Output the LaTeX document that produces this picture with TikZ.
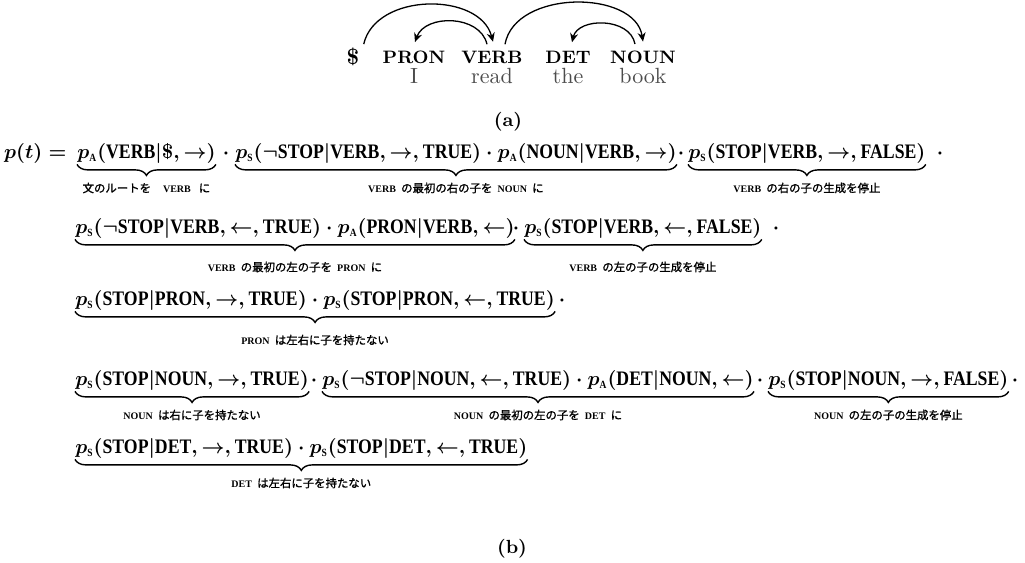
\documentclass[tikz,border=0pt]{standalone}
\usepackage{fontspec}
\usetikzlibrary{decorations.pathreplacing,arrows.meta,calc}
\newfontfamily\capf{Liberation Serif}[FakeStretch=0.86]
\newfontfamily\capw{Liberation Serif}
\newfontfamily\jp{Noto Sans CJK JP}[FakeBold=1.2]
\newfontfamily\lmr{Latin Modern Roman}
\newcommand\W[1]{\mbox{\capf\bfseries #1}}
\newcommand\pA{p_{\mbox{\fontsize{5.5}{6}\selectfont\capf\bfseries A}}}
\newcommand\pS{p_{\mbox{\fontsize{5.5}{6}\selectfont\capf\bfseries S}}}
\newcommand\Lsc[1]{{\capw\bfseries\fontsize{5}{5}\selectfont #1}}
\newcommand\gap{\hspace{2.6pt}}
\tikzset{
  grp/.style={inner sep=0pt, anchor=base west, font=\fontsize{10.3}{12}\selectfont\boldmath},
  dotn/.style={inner sep=0pt, anchor=base, font=\fontsize{10.3}{12}\selectfont\boldmath},
  lab/.style={inner sep=0pt, anchor=center, font=\jp\fontsize{5.7}{6}\selectfont},
  ubrace/.style={decorate, decoration={brace, amplitude=5.5pt, mirror}, line width=0.7pt},
  posn/.style={inner sep=0pt, anchor=base, font=\lmr\bfseries\fontsize{9}{10}\selectfont},
  wrd/.style={inner sep=0pt, anchor=base, text=black!70, font=\lmr\fontsize{11}{12}\selectfont},
  arc/.style={line width=0.65pt, -{Stealth[length=4.5pt,width=4pt]}},
  capn/.style={inner sep=0pt, anchor=base, font=\lmr\bfseries\fontsize{9.5}{10}\selectfont},
}
\begin{document}
\begin{tikzpicture}[x=0.5pt,y=-0.5pt]
\useasboundingbox (0,0) rectangle (1025,563);
% ---------- (a) dependency tree ----------
\node[posn, font=\lmr\bfseries\fontsize{11}{12}\selectfont] (dollar) at (353,64) {\$};
\node[posn] (pron) at (414,63) {PRON};
\node[posn] (verb) at (492,63) {VERB};
\node[posn] (det)  at (568,63) {DET};
\node[posn] (noun) at (643,63) {NOUN};
\node[wrd] (wI)    at (414,83) {I};
\node[wrd] (wread) at (492,83) {read};
\node[wrd] (wthe)  at (568,83) {the};
\node[wrd] (wbook) at (643,83) {book};
\draw[arc] ([shift={(4,-3)}]dollar.north east) .. controls +(12,-52) and +(-13,-50) .. ([shift={(1,-8.5)}]verb.north);
\draw[arc] ([shift={(-5,-6)}]verb.north) .. controls +(-7,-30) and +(10,-28) .. ([shift={(1,-8)}]pron.north);
\draw[arc] ([shift={(13,-6)}]verb.north) .. controls +(10,-55) and +(-8,-52) .. ([shift={(0,-8.5)}]noun.north);
\draw[arc] ([shift={(-8,-6)}]noun.north) .. controls +(-5,-27) and +(6,-25) .. ([shift={(4,-8)}]det.north);
\node[capn] (capa) at (508,126) {(a)};
% ---------- (b) formula ----------
% line 1
\node[grp, anchor=base east] (pt) at (67,158) {$p(t) =$};
\node[grp] (g11) at (77,158) {$\pA(\W{VERB}|\$,\to)$};
\node[dotn] (d11) at (226,158) {$\cdot$};
\node[grp] (g12) at (235,158) {$\pS(\neg\W{STOP}|\W{VERB},\to,\W{TRUE})\cdot\pA(\W{NOUN}|\W{VERB},\to)$};
\node[dotn] (d12) at (681,158) {$\cdot$};
\node[grp] (g13) at (688,158) {$\pS(\W{STOP}|\W{VERB},\to,\W{FALSE})$};
\node[dotn] (d13) at (940,158) {$\cdot$};
% line 2
\node[grp] (g21) at (75,233) {$\pS(\neg\W{STOP}|\W{VERB},\gets,\W{TRUE})\cdot\pA(\W{PRON}|\W{VERB},\gets)$};
\node[dotn] (d21) at (516,233) {$\cdot$};
\node[grp] (g22) at (524,233) {$\pS(\W{STOP}|\W{VERB},\gets,\W{FALSE})$};
\node[dotn] (d22) at (776,233) {$\cdot$};
% line 3
\node[grp] (g31) at (75,305) {$\pS(\W{STOP}|\W{PRON},\to,\W{TRUE})\cdot\pS(\W{STOP}|\W{PRON},\gets,\W{TRUE})$};
\node[dotn] (d31) at (562,305) {$\cdot$};
% line 4
\node[grp] (g41) at (75,385) {$\pS(\W{STOP}|\W{NOUN},\to,\W{TRUE})$};
\node[dotn] (d41) at (314,385) {$\cdot$};
\node[grp] (g42) at (322,385) {$\pS(\neg\W{STOP}|\W{NOUN},\gets,\W{TRUE})\cdot\pA(\W{DET}|\W{NOUN},\gets)$};
\node[dotn] (d42) at (760,385) {$\cdot$};
\node[grp] (g43) at (768,385) {$\pS(\W{STOP}|\W{NOUN},\to,\W{FALSE})$};
\node[dotn] (d43) at (1015,385) {$\cdot$};
% line 5
\node[grp] (g51) at (75,453) {$\pS(\W{STOP}|\W{DET},\to,\W{TRUE})\cdot\pS(\W{STOP}|\W{DET},\gets,\W{TRUE})$};
% braces
\foreach \g in {g11,g12,g13,g21,g22,g31,g41,g42,g43,g51}
  \draw[ubrace] ([yshift=-0.5pt]\g.south west) -- ([yshift=-0.5pt]\g.south east);
% labels
\node[lab] (l11) at ($(g11.base)+(0,30)$) {文のルートを\hspace{6pt}\Lsc{VERB}\hspace{4pt}に};
\node[lab] (l12) at ($(g12.base)+(0,30)$) {\Lsc{VERB}\gap の最初の右の子を\gap\Lsc{NOUN}\gap に};
\node[lab] (l13) at ($(g13.base)+(0,30)$) {\Lsc{VERB}\gap の右の子の生成を停止};
\node[lab] (l21) at ($(g21.base)+(0,34)$) {\Lsc{VERB}\gap の最初の左の子を\gap\Lsc{PRON}\gap に};
\node[lab] (l22) at ($(g22.base)+(0,34)$) {\Lsc{VERB}\gap の左の子の生成を停止};
\node[lab] (l31) at ($(g31.base)+(0,35)$) {\Lsc{PRON}\gap は左右に子を持たない};
\node[lab] (l41) at ($(g41.base)+(0,30)$) {\Lsc{NOUN}\gap は右に子を持たない};
\node[lab] (l42) at ($(g42.base)+(0,30)$) {\Lsc{NOUN}\gap の最初の左の子を\gap\Lsc{DET}\gap に};
\node[lab] (l43) at ($(g43.base)+(0,30)$) {\Lsc{NOUN}\gap の左の子の生成を停止};
\node[lab] (l51) at ($(g51.base)+(0,30)$) {\Lsc{DET}\gap は左右に子を持たない};
\node[capn] (capb) at (512,553) {(b)};
\end{tikzpicture}
\end{document}
